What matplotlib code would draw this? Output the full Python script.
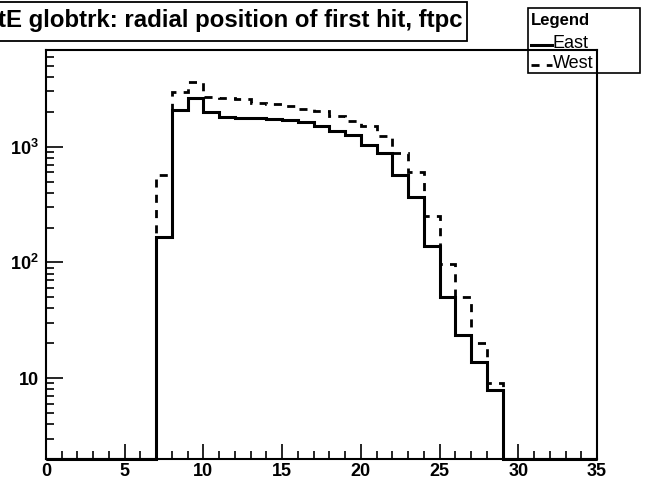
import numpy as np
import matplotlib.pyplot as plt
from matplotlib.patches import Rectangle
from matplotlib.lines import Line2D
from matplotlib.ticker import FixedLocator, FixedFormatter, MultipleLocator, LogLocator, NullFormatter

plt.rcParams['font.family'] = ['Liberation Sans', 'DejaVu Sans']
plt.rcParams['mathtext.fontset'] = 'custom'
plt.rcParams['mathtext.rm'] = 'Liberation Sans'
plt.rcParams['mathtext.bf'] = 'Liberation Sans:bold'
plt.rcParams['lines.scale_dashes'] = False

# histogram: 35 bins of width 1 from 0 to 35, filled bins start at 7
bin_edges = np.arange(0, 36)
first_bin = 7
east_counts = [167, 2070, 2620, 2000, 1820, 1780, 1760, 1720, 1690, 1620, 1500,
               1360, 1260, 1030, 877, 570, 365, 138, 50, 23.6, 13.8, 7.9]
west_counts = [570, 2960, 3640, 2700, 2620, 2560, 2400, 2320, 2250, 2120, 2050,
               1850, 1670, 1520, 1240, 877, 600, 252, 96, 50, 20, 9.0]
title = "tE globtrk: radial position of first hit, ftpc"
ymin, ymax = 2, 6850

east = np.zeros(len(bin_edges) - 1)
east[first_bin:first_bin + len(east_counts)] = east_counts
west = np.zeros(len(bin_edges) - 1)
west[first_bin:first_bin + len(west_counts)] = west_counts

W, H = 651, 482
fig = plt.figure(figsize=(W / 100, H / 100), dpi=100)
ax = fig.add_axes([46 / W, 1 - 459 / H, (597 - 46) / W, (459 - 50) / H])

# empty bins sit on the bottom of the frame, like ROOT draws them
ax.stairs(np.where(west > 0, west, ymin), bin_edges, baseline=None, color='k',
          lw=2.0, linestyle=(0, (5.8, 5.2)), clip_on=False)
ax.stairs(np.where(east > 0, east, ymin), bin_edges, baseline=None, color='k',
          lw=2.2, clip_on=False)

ax.set_yscale('log')
ax.set_xlim(0, 35)
ax.set_ylim(ymin, ymax)

for s in ax.spines.values():
    s.set_linewidth(1.5)

ax.xaxis.set_major_locator(MultipleLocator(5))
ax.xaxis.set_minor_locator(MultipleLocator(1))
ax.yaxis.set_major_locator(FixedLocator([10, 100, 1000]))
ax.yaxis.set_major_formatter(FixedFormatter(['10', r'$\mathbf{10^{2}}$', r'$\mathbf{10^{3}}$']))
ax.yaxis.set_minor_locator(LogLocator(base=10, subs=np.arange(2, 10), numticks=20))
ax.yaxis.set_minor_formatter(NullFormatter())

ax.tick_params(which='both', direction='in', top=False, right=False, width=1.2)
ax.tick_params(axis='y', which='major', length=12.5, pad=5, labelsize=13)
ax.tick_params(axis='y', which='minor', length=6)
ax.tick_params(axis='x', which='major', length=11, pad=3, labelsize=13)
ax.tick_params(axis='x', which='minor', length=5.5)
for lab in ax.get_xticklabels() + ax.get_yticklabels():
    lab.set_fontweight('bold')

# title box, cut at the left edge
fig.add_artist(Rectangle((-5 / W, 1 - 41 / H), 472 / W, 39 / H, transform=fig.transFigure,
                         facecolor='white', edgecolor='k', lw=1.3))
fig.text(463 / W, 1 - 21 / H, title, ha='right', va='center', fontsize=17.3, fontweight='bold')

# legend box
fig.add_artist(Rectangle((528 / W, 1 - 73 / H), 112 / W, 65 / H, transform=fig.transFigure,
                         facecolor='none', edgecolor='k', lw=1.2))
fig.text(531 / W, 1 - 20 / H, "Legend", ha='left', va='center', fontsize=12, fontweight='bold')
fig.add_artist(Line2D([531 / W, 552 / W], [1 - 45 / H] * 2, transform=fig.transFigure,
                      color='k', lw=2.2))
fig.add_artist(Line2D([531 / W, 552 / W], [1 - 65 / H] * 2, transform=fig.transFigure,
                      color='k', lw=2.0, linestyle=(0, (5.8, 5.2))))
fig.text(553 / W, 1 - 44 / H, "East", ha='left', va='center', fontsize=13)
fig.text(553 / W, 1 - 64 / H, "West", ha='left', va='center', fontsize=13)

fig.savefig("out.png", dpi=100)
